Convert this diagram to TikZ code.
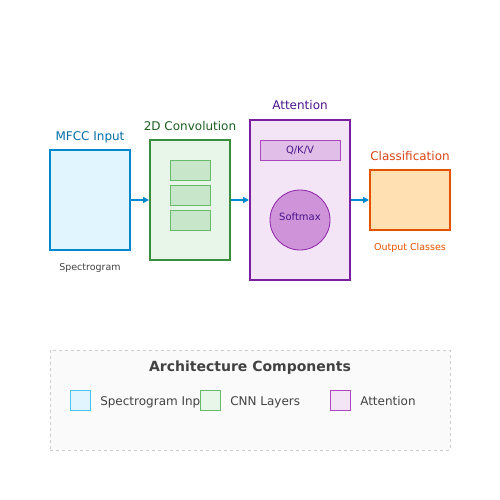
\documentclass[tikz,border=0pt]{standalone}
\usepackage{fontspec}
\setmainfont{DejaVu Sans}
\usetikzlibrary{arrows.meta,positioning}
\definecolor{inblue}{HTML}{0288D1}
\definecolor{inbluefill}{HTML}{E1F5FE}
\definecolor{inbluelight}{HTML}{4FC3F7}
\definecolor{cnngreen}{HTML}{388E3C}
\definecolor{cnnfill}{HTML}{E8F5E9}
\definecolor{cnndark}{HTML}{1B5E20}
\definecolor{cnnlayer}{HTML}{C8E6C9}
\definecolor{cnnlayerdraw}{HTML}{66BB6A}
\definecolor{attpurple}{HTML}{7B1FA2}
\definecolor{attfill}{HTML}{F3E5F5}
\definecolor{attdark}{HTML}{4A148C}
\definecolor{qkvfill}{HTML}{E1BEE7}
\definecolor{qkvdraw}{HTML}{AB47BC}
\definecolor{smfill}{HTML}{CE93D8}
\definecolor{smdraw}{HTML}{8E24AA}
\definecolor{clsorange}{HTML}{E65100}
\definecolor{clsfill}{HTML}{FFE0B2}
\definecolor{clstext}{HTML}{D84315}
\definecolor{legtext}{HTML}{424242}
\definecolor{legdraw}{HTML}{CCCCCC}
\definecolor{legfill}{HTML}{FAFAFA}
\tikzset{
    >={Triangle[length=6pt,width=6pt]},
    every picture/.style={line width=0.5pt},
    stage/.style={draw,line width=2pt,inner sep=0pt},
    caption/.style={font=\fontsize{12}{14}\selectfont,anchor=base},
    note/.style={font=\fontsize{9.5}{11}\selectfont,anchor=base},
    legbox/.style={draw,line width=1pt,minimum size=20pt,inner sep=0pt},
    legtxt/.style={font=\fontsize{12}{14}\selectfont,text=legtext,anchor=base west,inner sep=0pt}
}

\begin{document}
\begin{tikzpicture}[x=1pt,y=-1pt]
        \useasboundingbox (0,0) rectangle (500,500);

        % Stages
        \node[stage,draw=inblue,fill=inbluefill,minimum width=80pt,minimum height=100pt] (mfcc) at (90,200) {};
        \node[stage,draw=cnngreen,fill=cnnfill,minimum width=80pt,minimum height=120pt] (conv) at (190,200) {};
        \node[stage,draw=attpurple,fill=attfill,minimum width=100pt,minimum height=160pt] (att) at (300,200) {};
        \node[stage,draw=clsorange,fill=clsfill,minimum width=80pt,minimum height=60pt] (cls) at (410,200) {};

        % Stage titles and notes
        \node[caption,text=inblue!80!black] (mfcctitle) at (90,140) {MFCC Input};
        \node[note,text=legtext] (mfccnote) at (90,270.5) {Spectrogram};
        \node[caption,text=cnndark] (convtitle) at (190,130) {2D Convolution};
        \node[caption,text=attdark] (atttitle) at (300,110) {Attention};
        \node[caption,text=clstext] (clstitle) at (410,160) {Classification};
        \node[note,text=clsorange] (clsnote) at (410,250.5) {Output Classes};

        % Conv layers
        \foreach \y/\name in {170/la, 195/lb, 220/lc} {
            \node[draw=cnnlayerdraw,fill=cnnlayer,line width=1pt,minimum width=40pt,minimum height=20pt,inner sep=0pt] (\name) at (190,\y) {};
        }

        % Attention parts
        \node[draw=qkvdraw,fill=qkvfill,line width=1pt,minimum width=80pt,minimum height=20pt,inner sep=0pt,
              font=\fontsize{10}{12}\selectfont,text=attdark] (qkv) at (300,150) {Q/K/V};
        \node[circle,draw=smdraw,fill=smfill,line width=0.8pt,minimum size=60pt,inner sep=0pt] (softmax) at (300,220) {};
        \node[font=\fontsize{10}{12}\selectfont,text=attdark] (smlabel) at (300,217) {Softmax};

        % Flow
        \draw[->,inblue,line width=1.5pt] (mfcc.east) -- (conv.west);
        \draw[->,inblue,line width=1.5pt] (conv.east) -- (att.west);
        \draw[->,inblue,line width=1.5pt] (att.east) -- (cls.west);

        % Legend
        \node[draw=legdraw,fill=legfill,dashed,line width=1pt,minimum width=400pt,minimum height=100pt,inner sep=0pt] (legend) at (250,400) {};
        \node[font=\bfseries\fontsize{14}{16}\selectfont,text=legtext,anchor=base] (legtitle) at (250,371) {Architecture Components};
        \node[legtxt] (legin) at (100,405) {Spectrogram Input};
        \node[legbox,draw=inbluelight,fill=inbluefill] (legbin) at (80,400) {};
        \node[legbox,draw=cnnlayerdraw,fill=cnnfill] (legbcnn) at (210,400) {};
        \node[legtxt] (legcnn) at (230,405) {CNN Layers};
        \node[legbox,draw=qkvdraw,fill=attfill] (legbatt) at (340,400) {};
        \node[legtxt] (legatt) at (360,405) {Attention};
\end{tikzpicture}
\end{document}
